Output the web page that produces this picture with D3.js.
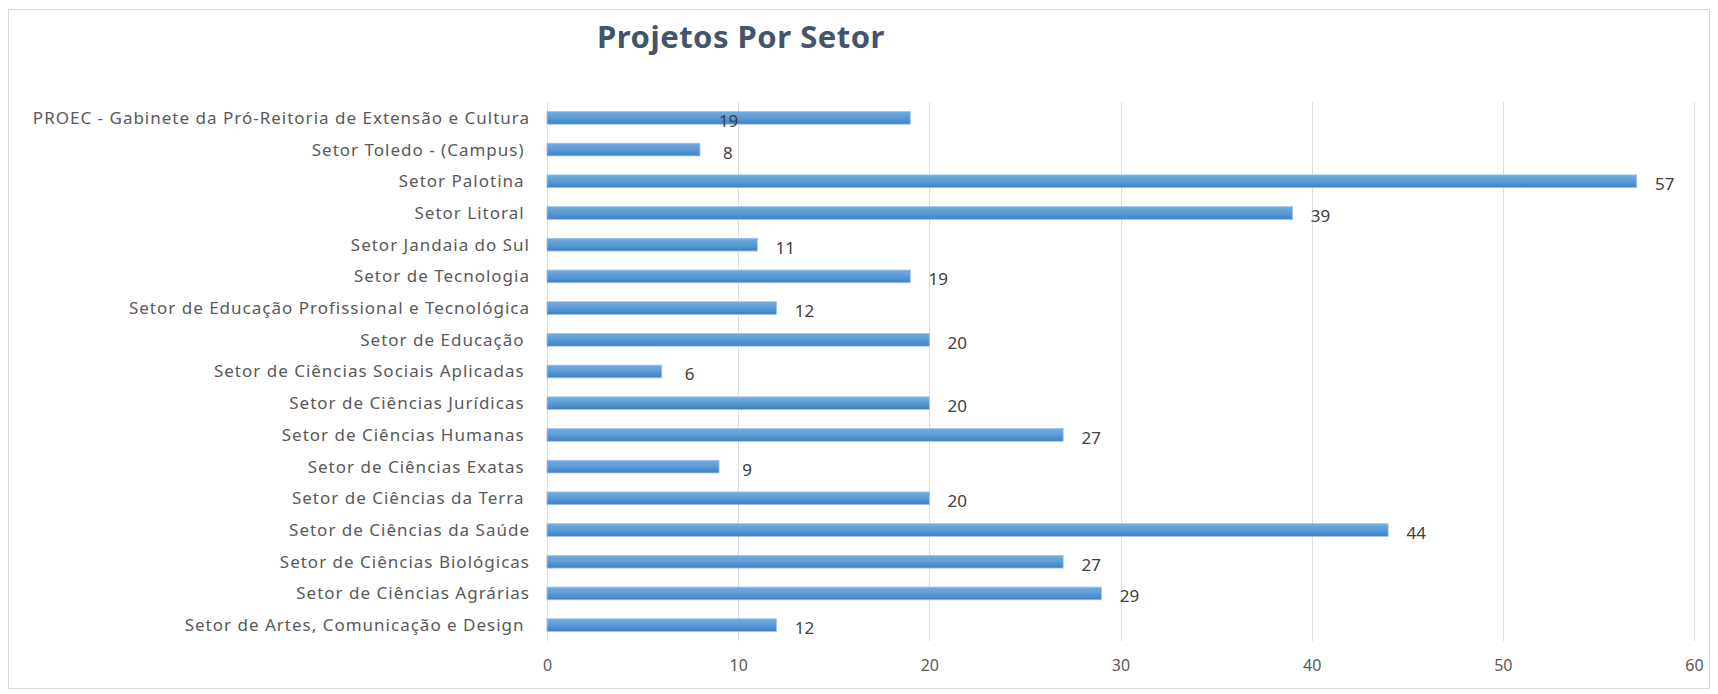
<!DOCTYPE html>
<html>
<head>
<meta charset="utf-8">
<script src="https://cdn.jsdelivr.net/npm/d3@7"></script>
<style>
  body { margin: 0; background: #fff; }
  svg text { font-family: "Noto Sans", "Open Sans", sans-serif; white-space: pre; }
</style>
</head>
<body>
<div id="chart"></div>
<script>
// categories top to bottom, as in the picture (trailing spaces kept)
var sectors = [
  "PROEC - Gabinete da Pró-Reitoria de Extensão e Cultura",
  "Setor Toledo - (Campus) ",
  "Setor Palotina ",
  "Setor Litoral ",
  "Setor Jandaia do Sul",
  "Setor de Tecnologia",
  "Setor de Educação Profissional e Tecnológica",
  "Setor de Educação ",
  "Setor de Ciências Sociais Aplicadas ",
  "Setor de Ciências Jurídicas ",
  "Setor de Ciências Humanas ",
  "Setor de Ciências Exatas ",
  "Setor de Ciências da Terra ",
  "Setor de Ciências da Saúde",
  "Setor de Ciências Biológicas",
  "Setor de Ciências Agrárias",
  "Setor de Artes, Comunicação e Design "
];
var projects = [19, 8, 57, 39, 11, 19, 12, 20, 6, 20, 27, 9, 20, 44, 27, 29, 12];
var xTicks = [0, 10, 20, 30, 40, 50, 60];
// label that excel put in the middle of its bar
var centeredLabels = ["PROEC - Gabinete da Pró-Reitoria de Extensão e Cultura"];

var width = 1718, height = 694;
var plot = { left: 547, right: 1694, top: 102, bottom: 641 };

var svg = d3.select("#chart").append("svg")
    .attr("width", width)
    .attr("height", height);

var grad = svg.append("defs").append("linearGradient")
    .attr("id", "barFill")
    .attr("x1", 0).attr("y1", 0).attr("x2", 0).attr("y2", 1);
grad.append("stop").attr("offset", "0%").attr("stop-color", "#72ace1");
grad.append("stop").attr("offset", "50%").attr("stop-color", "#5b9bd5");
grad.append("stop").attr("offset", "100%").attr("stop-color", "#3f7fc3");

// outer chart frame
svg.append("rect")
    .attr("x", 8.5).attr("y", 9.5)
    .attr("width", 1701).attr("height", 679)
    .attr("fill", "none")
    .attr("stroke", "#d9d9d9");

svg.append("text")
    .attr("x", 741)
    .attr("y", 48)
    .attr("text-anchor", "middle")
    .style("font-size", "31px")
    .style("font-weight", "bold")
    .style("letter-spacing", "0.5px")
    .style("fill", "#44546a")
    .text("Projetos Por Setor");

var x = d3.scaleLinear().domain([0, 60]).range([plot.left, plot.right]);
var y = d3.scaleBand().domain(sectors).range([plot.top, plot.bottom])
    .paddingInner(0.6).paddingOuter(0.3);

// gridlines
svg.append("g").selectAll("line")
    .data(xTicks)
    .enter().append("line")
    .attr("x1", function(d) { return Math.round(x(d)) + 0.5; })
    .attr("x2", function(d) { return Math.round(x(d)) + 0.5; })
    .attr("y1", plot.top)
    .attr("y2", plot.bottom)
    .attr("stroke", "#d9dde4");

// x axis tick labels
var xAxis = svg.append("g")
    .attr("transform", "translate(0," + (plot.bottom + 19) + ")")
    .call(d3.axisBottom(x).tickValues(xTicks).tickSize(0).tickPadding(0));
xAxis.select(".domain").remove();
xAxis.selectAll("text")
    .style("font-size", "16px")
    .style("fill", "#595959")
    .attr("font-family", null);

// category labels
svg.append("g").selectAll("text")
    .data(sectors)
    .enter().append("text")
    .attr("x", plot.left - 17)
    .attr("y", function(d) { return y(d) + y.bandwidth() / 2; })
    .attr("dy", "0.35em")
    .attr("text-anchor", "end")
    .style("font-size", "17px")
    .style("letter-spacing", "1px")
    .style("fill", "#595959")
    .text(function(d) { return d; });

// bars
svg.append("g").selectAll("rect")
    .data(sectors)
    .enter().append("rect")
    .attr("x", x(0))
    .attr("y", function(d) { return y(d); })
    .attr("width", function(d, i) { return x(projects[i]) - x(0); })
    .attr("height", y.bandwidth())
    .attr("fill", "url(#barFill)")
    .attr("stroke", "#9cc2e8")
    .attr("stroke-width", 0.8);

// value labels
svg.append("g").selectAll("text")
    .data(sectors)
    .enter().append("text")
    .attr("x", function(d, i) {
        if (centeredLabels.indexOf(d) >= 0) return x(projects[i] / 2);
        return x(projects[i]) + 28;
    })
    .attr("y", function(d) { return y(d) + y.bandwidth() / 2 + 3; })
    .attr("dy", "0.35em")
    .attr("text-anchor", "middle")
    .style("font-size", "17px")
    .style("fill", "#404040")
    .text(function(d, i) { return projects[i]; });
</script>
</body>
</html>
